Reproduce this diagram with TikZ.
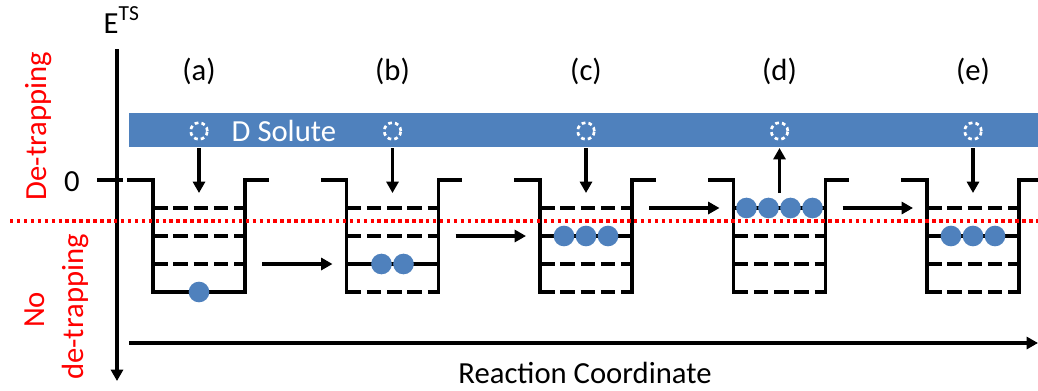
\documentclass[tikz,border=0pt]{standalone}
\usepackage{fontspec}
\setmainfont{Carlito}
\usetikzlibrary{arrows.meta,calc}
\definecolor{obl}{HTML}{4F81BD}
\begin{document}
\begin{tikzpicture}[x=0.75pt,y=-0.75pt,
  font=\fontsize{23}{27}\selectfont,
  lw/.style={line width=2.3pt},
  wallline/.style={line width=2.3pt, line cap=rect},
  lvl/.style={line width=2.3pt, dash pattern=on 11pt off 4.2pt},
  arr/.style={line width=2.3pt, -{Triangle[length=8.5pt,width=9pt]}},
  dot/.style={circle, fill=obl, minimum size=15.5pt, inner sep=0pt},
  ring/.style={circle, draw=white, line width=2pt, dash pattern=on 2.8pt off 2.3pt, minimum size=12.5pt, inner sep=0pt},
  redtext/.style={text=red, rotate=90, anchor=base}]
\useasboundingbox (0,0) rectangle (1038,390);
% blue bar
\fill[obl] (129,113) rectangle (1038,147);
\node[anchor=base west, text=white] (solute) at (227,141) {D Solute};
% axes
\coordinate (ytop) at (117,49);
\coordinate (ybot) at (117,381);
\draw[arr] (ytop) -- (ybot);
\coordinate (xl) at (129,343);
\coordinate (xr) at (1038,343);
\draw[arr] (xl) -- (xr);
\node[anchor=base west] (ets) at (99,33) {E\textsuperscript{TS}};
\coordinate (t1) at (97,180);
\coordinate (t2) at (123,180);
\draw[lw] (t1) -- (t2);
\node[anchor=base] (zero) at (72,191) {0};
\node[anchor=base] (rc) at (585,383) {Reaction Coordinate};
\node[redtext] (det) at (46,126) {De-trapping};
\node[redtext] (no) at (44,310) {No};
\node[redtext] (node2) at (83,307) {de-trapping};
% wells
\foreach \i/\nm/\sl/\n in {0/a/292/1,1/b/264/2,2/c/236/3,3/d/208/4,4/e/236/3}{
  \pgfmathsetmacro\cx{199+193.5*\i}
  \coordinate (w\nm) at (\cx,180);
  \draw[wallline] (\cx-70,180) -- (\cx-46,180) -- (\cx-46,292);
  \draw[wallline] (\cx+46,292) -- (\cx+46,180) -- (\cx+68,180);
  \foreach \y in {208,236,264,292}{
    \ifnum\y=\sl\relax
      \draw[lw] (\cx-46,\y) -- (\cx+46,\y);
    \else
      \draw[lvl] (\cx-46,\y) -- (\cx+46,\y);
    \fi
  }
  \foreach \k in {1,...,\n}{
    \node[dot] (\nm\k) at ({\cx+22*(\k-(\n+1)/2)},\sl) {};
  }
  \node[ring] (r\nm) at (\cx,131) {};
  \node[anchor=base] (l\nm) at (\cx,80) {(\nm)};
}
% solute arrows
\foreach \nm in {a,b,c,e}{
  \draw[arr] ($(r\nm)+(0,17)$) -- ($(w\nm)+(0,13)$);
}
\draw[arr] ($(wd)+(0,13)$) -- ($(rd)+(0,17)$);
% transitions
\draw[arr] ($(wa)+(63,84)$) -- ($(wb)+(-60,84)$);
\draw[arr] ($(wb)+(63,56)$) -- ($(wc)+(-60,56)$);
\draw[arr] ($(wc)+(63,28)$) -- ($(wd)+(-60,28)$);
\draw[arr] ($(wd)+(63,28)$) -- ($(we)+(-60,28)$);
% red dotted threshold
\coordinate (rl) at (10,221);
\coordinate (rr) at (1038,221);
\draw[red, line width=2.6pt, dash pattern=on 2.6pt off 2.6pt] (rl) -- (rr);
\end{tikzpicture}
\end{document}
